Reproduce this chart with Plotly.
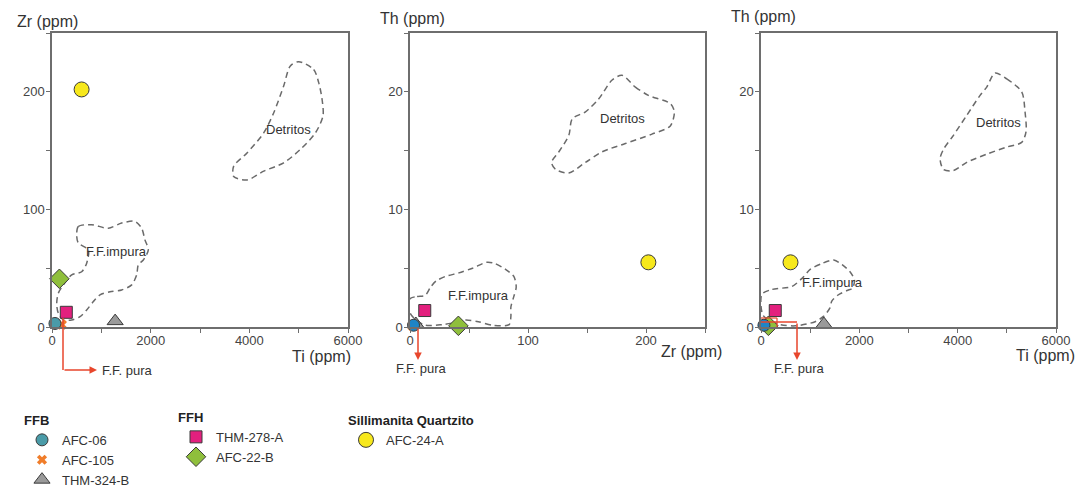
import plotly.graph_objects as go

# ---------------- data ----------------
samples = ["AFC-06", "AFC-105", "THM-324-B", "THM-278-A", "AFC-22-B", "AFC-24-A"]
groups = ["FFB", "FFB", "FFB", "FFH", "FFH", "Sillimanita Quartzito"]
ti_ppm = [60, 200, 1280, 290, 150, 600]
zr_ppm = [3, 2, 5, 12.5, 41, 202]
th_ppm = [0.15, 0.1, 0.25, 1.4, 0.1, 5.5]

# field outlines (Detritos / F.F.impura)
det_tizr_ti = [5000, 5304, 5405, 5473, 5493, 5338, 5034, 4696, 4291, 3953, 3683, 3683, 3953, 4291, 4493, 4696, 4831]
det_tizr_zr = [225.6, 219, 208, 194, 179.5, 165, 151, 139.6, 132.5, 125, 128, 136.8, 148, 165, 182, 205, 222]
imp_tizr_ti = [500, 534, 804, 1142, 1412, 1682, 1817, 1885, 1952, 1851, 1750, 1716, 1615, 1412, 1176, 973, 838,
               703, 568, 399, 230, 128, 95, 128, 230, 399, 602, 703, 736, 534]
imp_tizr_zr = [78.4, 85.5, 87, 84, 88.4, 89.8, 84, 74, 65.6, 57, 52.9, 44.3, 35.8, 31.5, 30, 27.3, 21.6,
               14.5, 8.8, 6, 6, 11.7, 20, 28.7, 35.8, 44.3, 47, 54.3, 65.6, 71.4]

det_zrth_zr = [179.7, 191, 202, 220.6, 224, 220.6, 205, 182.5, 162.8, 148.7, 134.6, 123.4, 120, 126.2, 134.6, 137.5, 148.7, 160, 171.3]
det_zrth_th = [21.4, 20.4, 19.7, 19.0, 18.3, 17.1, 16.4, 15.6, 14.9, 14.0, 13.1, 13.4, 14.0, 14.9, 16.3, 17.7, 18.3, 19.4, 21.0]
imp_zrth_zr = [0, 6, 13, 17.5, 22, 30, 41.5, 53, 65, 72, 81, 88, 90, 88, 85.5, 85.5, 84, 70, 58, 47, 39, 27, 13, 5, 0]
imp_zrth_th = [2.4, 2.6, 2.7, 3.4, 3.9, 4.3, 4.6, 5.0, 5.5, 5.4, 4.9, 4.3, 3.4, 2.6, 1.7, 0.9, 0.2, 0.15, 0.45, 0.6, 0.4, 0.2, 0.15, 0.6, 1.2]

det_tith_ti = [4761, 4998, 5302, 5370, 5390, 5302, 4998, 4591, 4185, 3914, 3711, 3643, 3711, 3914, 4185, 4456, 4591]
det_tith_th = [21.6, 21.1, 20.0, 18.3, 16.6, 15.7, 15.3, 14.7, 14.0, 13.3, 13.4, 14.3, 15.1, 16.3, 18.0, 19.7, 20.4]
imp_tith_ti = [20, 230, 630, 850, 1000, 1240, 1480, 1650, 1810, 1900, 1860, 1750, 1560, 1440, 1400, 1270, 1100, 700, 390, 150, 40, 0]
imp_tith_th = [2.8, 3.2, 3.45, 4.2, 4.9, 5.4, 5.7, 5.3, 4.7, 4.0, 3.3, 3.1, 2.7, 2.2, 1.6, 0.9, 0.45, 0.1, 0.2, 0.6, 1.0, 1.8]

# ---------------- styles ----------------
W, H = 1085, 490
FONT = "Arial, Liberation Sans, sans-serif"
TXT = "#333333"
RED = "#e8462c"
sym = ["circle", "x", "triangle-up", "square", "diamond", "circle"]
col_p1 = ["#4a9ba8", "#f07d2a", "#9a9a9a", "#e3207e", "#8fbf3c", "#f7e81c"]
col_p23 = ["#1f84c6", "#f07d2a", "#9a9a9a", "#e3207e", "#8fbf3c", "#f7e81c"]
size = [12, 9, 14, 12, 15, 15]
legend_of = {"FFB": "legend", "FFH": "legend2", "Sillimanita Quartzito": "legend3"}
rank = [1, 2, 3, 1, 2, 1]
draw_order = [1, 2, 4, 3, 0, 5]


def px(x):
    return x / W


def py(y):
    return 1 - y / H


fig = go.Figure()

panels = [
    ("x", "y", ti_ppm, zr_ppm, col_p1,
     [(det_tizr_ti, det_tizr_zr), (imp_tizr_ti, imp_tizr_zr)]),
    ("x2", "y2", zr_ppm, th_ppm, col_p23,
     [(det_zrth_zr, det_zrth_th), (imp_zrth_zr, imp_zrth_th)]),
    ("x3", "y3", ti_ppm, th_ppm, col_p23,
     [(det_tith_ti, det_tith_th), (imp_tith_ti, imp_tith_th)]),
]

for p, (xa, ya, xs, ys, cols, fields) in enumerate(panels):
    for fx, fy in fields:
        fig.add_trace(go.Scatter(
            x=list(fx) + [fx[0]], y=list(fy) + [fy[0]], mode="lines",
            line=dict(color="#6a6a6a", width=1.5, dash="6px,4px", shape="spline", smoothing=0.8),
            xaxis=xa, yaxis=ya, showlegend=False, hoverinfo="skip"))
    for i in draw_order:
        is_x = sym[i] == "x"
        fig.add_trace(go.Scatter(
            x=[xs[i]], y=[ys[i]], mode="markers", name=samples[i],
            legendgroup=samples[i], legend=legend_of[groups[i]], legendrank=rank[i],
            showlegend=(p == 0), cliponaxis=False,
            marker=dict(symbol=sym[i], size=size[i], color=cols[i],
                        line=dict(color=cols[i] if is_x else "#3a3a3a", width=0 if is_x else 1)),
            xaxis=xa, yaxis=ya))

# ---------------- axes ----------------
ydom = [py(327), py(33)]
xdoms = [[px(52), px(348)], [px(410), px(705)], [px(761), px(1056)]]
ranges = [([0, 6000], [0, 250], 2000, 1000, 100, 50),
          ([0, 250], [0, 25], 100, 50, 10, 5),
          ([0, 6000], [0, 25], 2000, 1000, 10, 5)]
axcommon = dict(showline=True, mirror=True, linecolor="#6e6e6e", linewidth=1.5,
                showgrid=False, zeroline=False, ticks="outside", ticklen=4,
                tickcolor="#6e6e6e", tickwidth=1, automargin=False,
                tickfont=dict(family=FONT, size=13, color="#444444"))
lay = {}
for k, (xr, yr, xd, xm, yd, ym) in enumerate(ranges):
    s = "" if k == 0 else str(k + 1)
    lay["xaxis" + s] = dict(domain=xdoms[k], range=xr, dtick=xd, tick0=0,
                            anchor="y" + s, ticklabelstandoff=-3,
                            minor=dict(dtick=xm, ticks="outside", ticklen=4, tickcolor="#6e6e6e"),
                            **axcommon)
    lay["yaxis" + s] = dict(domain=ydom, range=yr, dtick=yd, tick0=0,
                            anchor="x" + s, ticklabelstandoff=-1,
                            minor=dict(dtick=ym, ticks="outside", ticklen=4, tickcolor="#6e6e6e"),
                            **axcommon)

# ---------------- annotations ----------------
ann = []


def label(text, x, y, size=16, xanchor="center", color=TXT):
    ann.append(dict(text=text, x=px(x), y=py(y), xref="paper", yref="paper",
                    xanchor=xanchor, yanchor="middle", showarrow=False,
                    font=dict(family=FONT, size=size, color=color)))


label("Zr (ppm)", 47, 22)
label("Ti (ppm)", 321, 356)
label("Th (ppm)", 413, 18)
label("Zr (ppm)", 692, 351)
label("Th (ppm)", 763, 17)
label("Ti (ppm)", 1045, 355)

label("F.F. pura", 100, 370, size=13, xanchor="left")
label("F.F. pura", 421, 368, size=13)
label("F.F. pura", 799, 368, size=13)

# field names in data coordinates
for xa, ya, tx, x, y in [("x", "y", "Detritos", 4800, 168), ("x", "y", "F.F.impura", 1300, 64),
                         ("x2", "y2", "Detritos", 180, 17.7), ("x2", "y2", "F.F.impura", 58, 2.7),
                         ("x3", "y3", "Detritos", 4830, 17.4), ("x3", "y3", "F.F.impura", 1444, 3.75)]:
    ann.append(dict(text=tx, x=x, y=y, xref=xa, yref=ya, showarrow=False,
                    font=dict(family=FONT, size=13, color=TXT)))

# red arrows (pure fluorite field pointers)
def arrow(x_tip, y_tip, ax, ay):
    ann.append(dict(text="", x=px(x_tip), y=py(y_tip), xref="paper", yref="paper",
                    ax=ax, ay=ay, axref="pixel", ayref="pixel", showarrow=True,
                    arrowhead=2, arrowsize=1, arrowwidth=1.5, arrowcolor=RED))


arrow(97, 370, -34, 0)
arrow(418, 360, 0, -33)
arrow(797, 360, 0, -38)

shapes = [
    dict(type="line", xref="paper", yref="paper", x0=px(63), y0=py(318), x1=px(63), y1=py(370),
         line=dict(color=RED, width=1.5)),
    dict(type="line", xref="paper", yref="paper", x0=px(761), y0=py(318), x1=px(777), y1=py(318),
         line=dict(color=RED, width=1.2)),
    dict(type="line", xref="paper", yref="paper", x0=px(777), y0=py(318), x1=px(777), y1=py(327),
         line=dict(color=RED, width=1.2)),
    dict(type="line", xref="paper", yref="paper", x0=px(761), y0=py(322), x1=px(797), y1=py(322),
         line=dict(color=RED, width=1.5)),
]

legcommon = dict(bgcolor="rgba(0,0,0,0)", font=dict(family=FONT, size=13, color=TXT),
                 xanchor="left", yanchor="top", tracegroupgap=0, itemclick=False,
                 itemdoubleclick=False)

fig.update_layout(
    width=W, height=H, margin=dict(l=0, r=0, t=0, b=0, autoexpand=False),
    paper_bgcolor="white", plot_bgcolor="white",
    annotations=ann, shapes=shapes,
    legend=dict(x=px(22), y=py(408), title=dict(text="<b>FFB</b>", side="top",
                font=dict(family=FONT, size=13, color="#222")), **legcommon),
    legend2=dict(x=px(176), y=py(405), title=dict(text="<b>FFH</b>", side="top",
                 font=dict(family=FONT, size=13, color="#222")), **legcommon),
    legend3=dict(x=px(346), y=py(408), title=dict(text="<b>Sillimanita Quartzito</b>", side="top",
                 font=dict(family=FONT, size=13, color="#222")), **legcommon),
    **lay,
)

fig.write_html("out.html", config={"displayModeBar": False},
               post_script="document.body.style.margin='0px';document.body.style.overflow='hidden';")
